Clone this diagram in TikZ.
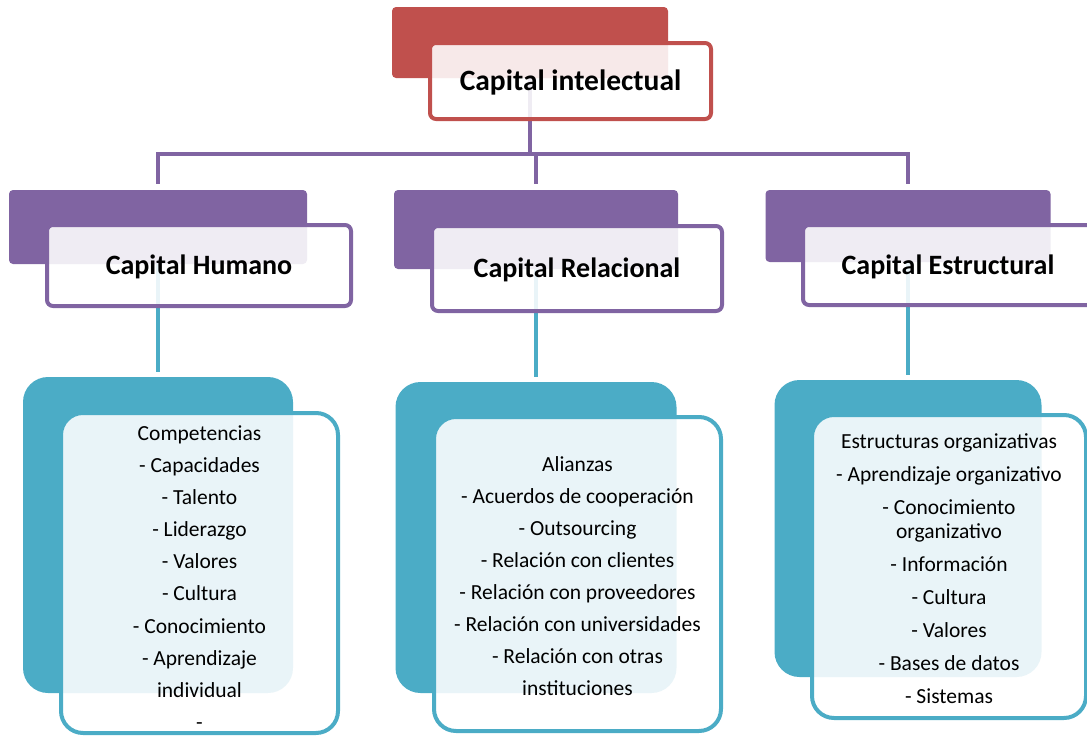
\documentclass[tikz,border=0pt]{standalone}
\usepackage{fontspec}
\setmainfont{Carlito}
\definecolor{cred}{HTML}{C0504D}
\definecolor{cpurple}{HTML}{8064A2}
\definecolor{cteal}{HTML}{4BACC6}
\pgfdeclarelayer{bg}
\pgfsetlayers{bg,main}
\begin{document}
\begin{tikzpicture}[x=1pt,y=-1pt,
  back/.style={fill=#1, rounded corners=4pt, inner sep=0pt},
  front/.style={draw=#1, line width=4pt, rounded corners=6pt, fill=white,
    fill opacity=0.88, text opacity=1, inner sep=0pt, align=center},
  head/.style={font=\fontsize{28}{34}\selectfont\bfseries, text height=23pt, text depth=5pt},
  listtxt/.style={font=\fontsize{21.5}{32.1}\selectfont, align=center, inner sep=0pt},
  pline/.style={draw=cpurple, line width=4pt},
  tline/.style={draw=cteal, line width=4pt},
]
\path[use as bounding box] (0,0) rectangle (1087,736);
\clip (0,0) rectangle (1087,736);

% level 1
\node[back=cred, minimum width=276pt, minimum height=71pt] (topback) at (530,42.5) {};
\node[front=cred, head, font=\fontsize{29.5}{34}\selectfont\bfseries, minimum width=281pt, minimum height=76pt] (top) at (570.5,81) {Capital intelectual};

% level 2
\node[back=cpurple, minimum width=298pt, minimum height=74pt] (hback1) at (158,227) {};
\node[front=cpurple, head, minimum width=304pt, minimum height=81pt] (h1) at (199,265.5) {Capital Humano};

\node[back=cpurple, minimum width=284pt, minimum height=79pt] (hback2) at (536,229.5) {};
\node[front=cpurple, head, minimum width=290pt, minimum height=85pt] (h2) at (577,268.5) {Capital Relacional};

\node[back=cpurple, minimum width=285pt, minimum height=72pt] (hback3) at (908,226) {};
\node[front=cpurple, head, minimum width=290pt, minimum height=80pt] (h3) at (948,265) {Capital Estructural};

% level 3
\node[back=cteal, rounded corners=25pt, minimum width=270pt, minimum height=316pt] (lback1) at (158,535) {};
\node[front=cteal, rounded corners=22pt, minimum width=277pt, minimum height=320pt] (l1) at (199.5,573) {};
\node[listtxt] (t1) at ([yshift=-4.5pt]l1.center)
  {Competencias\\- Capacidades\\- Talento\\- Liderazgo\\- Valores\\- Cultura\\- Conocimiento\\- Aprendizaje\\individual\\-};

\node[back=cteal, rounded corners=25pt, minimum width=281pt, minimum height=311pt] (lback2) at (536,537.5) {};
\node[front=cteal, rounded corners=22pt, minimum width=287pt, minimum height=314pt] (l2) at (577.5,574) {};
\node[listtxt] (t2) at ([yshift=-2pt]l2.center)
  {Alianzas\\- Acuerdos de cooperación\\- Outsourcing\\- Relación con clientes\\- Relación con proveedores\\- Relación con universidades\\- Relación con otras\\instituciones};

\node[back=cteal, rounded corners=25pt, minimum width=267pt, minimum height=297pt] (lback3) at (908,528.5) {};
\node[front=cteal, rounded corners=22pt, minimum width=274pt, minimum height=303pt] (l3) at (949,566.5) {};
\node[listtxt, font=\fontsize{21.5}{23.5}\selectfont] (t3) at ([yshift=-2pt]l3.center)
  {Estructuras organizativas\\[9.5pt]- Aprendizaje organizativo\\[9.5pt]- Conocimiento\\organizativo\\[9.5pt]- Información\\[9.5pt]- Cultura\\[9.5pt]- Valores\\[9.5pt]- Bases de datos\\[9.5pt]- Sistemas};

% connectors
\coordinate (bus) at (0,153.5);
\begin{pgfonlayer}{bg}
  \draw[pline] (topback.center) -- (topback.center |- bus);
  \draw[pline, line cap=rect] (hback1.center |- bus) -- (hback3.center |- bus);
  \draw[pline, shorten >=6pt] (hback1.center |- bus) -- (hback1.north);
  \draw[pline, shorten >=6pt] (hback2.center |- bus) -- (hback2.north);
  \draw[pline, shorten >=6pt] (hback3.center |- bus) -- (hback3.north);
  \draw[tline, shorten >=5pt] (hback1.center) -- (lback1.north);
  \draw[tline, shorten >=5pt] (hback2.center) -- (lback2.north);
  \draw[tline, shorten >=5pt] (hback3.center) -- (lback3.north);
\end{pgfonlayer}
\end{tikzpicture}
\end{document}
